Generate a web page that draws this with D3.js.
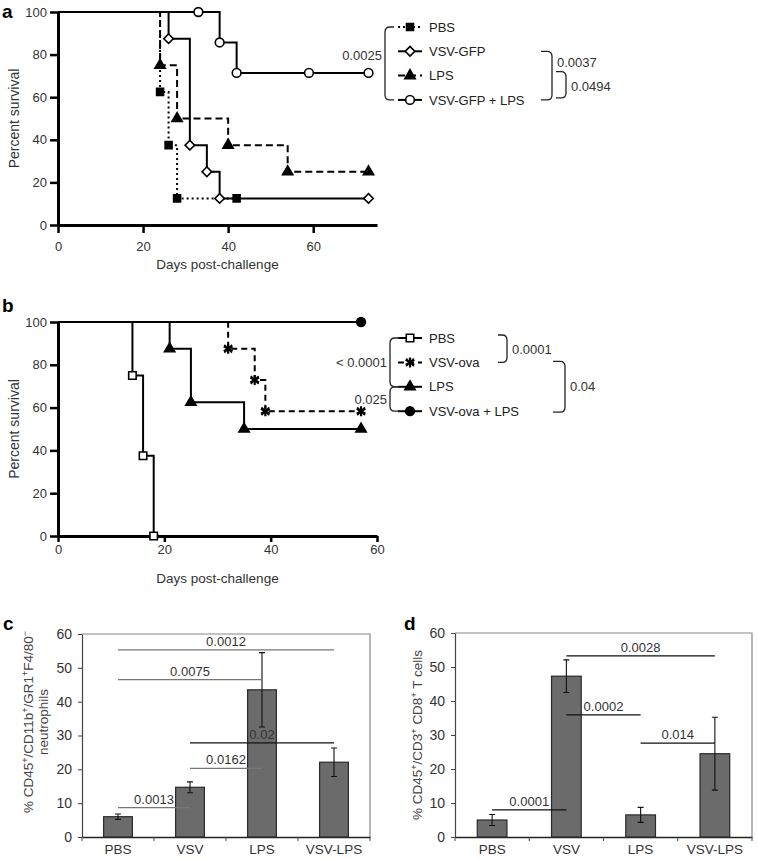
<!DOCTYPE html>
<html>
<head>
<meta charset="utf-8">
<script src="https://cdn.jsdelivr.net/npm/d3@7"></script>
<style>
  body { margin: 0; background: #fff; }
  svg { font-family: "Liberation Sans", Arial, sans-serif; }
</style>
</head>
<body>
<svg id="fig" width="758" height="859"></svg>
<script>
// ---- panel a: survival, VSV-GFP / LPS ----
const aGroups = ["PBS", "VSV-GFP", "LPS", "VSV-GFP + LPS"];
const aDays = [
  [0, 24, 26, 28, 42],
  [0, 26, 31, 35, 38, 73],
  [0, 24, 28, 40, 54, 73],
  [0, 33, 38, 42, 59, 73]
];
const aSurvival = [
  [100, 62.5, 37.5, 12.5, 12.5],
  [100, 87.5, 37.5, 25, 12.5, 12.5],
  [100, 75, 50, 37.5, 25, 25],
  [100, 100, 85.7, 71.4, 71.4, 71.4]
];
const aTicksX = [0, 20, 40, 60];
const aLeftP = ["0.0025"];
const aRightP = ["0.0037", "0.0494"];

// ---- panel b: survival, VSV-ova / LPS ----
const bGroups = ["PBS", "VSV-ova", "LPS", "VSV-ova + LPS"];
const bDays = [
  [0, 14, 16, 18],
  [0, 32, 37, 39, 57],
  [0, 21, 25, 35, 57],
  [0, 57]
];
const bSurvival = [
  [100, 75, 37.5, 0],
  [100, 87.5, 72.9, 58.3, 58.3],
  [100, 87.5, 62.5, 50, 50],
  [100, 100]
];
const bTicksX = [0, 20, 40, 60];
const bLeftP = ["< 0.0001", "0.025"];
const bRightP = ["0.0001", "0.04"];

const survTicks = [0, 20, 40, 60, 80, 100];

// ---- panels c, d: bar charts ----
const barCats = ["PBS", "VSV", "LPS", "VSV-LPS"];
const barTicks = [0, 10, 20, 30, 40, 50, 60];
const cMeans = [6.0, 14.7, 43.5, 22.1];
const cErr = [0.8, 1.6, 11.0, 4.2];
const cPvals = ["0.0012", "0.0075", "0.02", "0.0162", "0.0013"];
const cPairs = [[0, 3], [0, 2], [1, 3], [1, 2], [0, 1]];
const cPy = [55.3, 46.5, 27.8, 20.3, 8.7];
const dMeans = [5.0, 47.3, 6.5, 24.5];
const dErr = [1.6, 4.8, 2.2, 10.7];
const dPvals = ["0.0028", "0.0002", "0.014", "0.0001"];
const dPairs = [[1, 3], [1, 2], [2, 3], [0, 1]];
const dPy = [53.3, 35.9, 27.6, 8.0];

const svg = d3.select("#fig");
const ink = "#333";

// marker shapes, one per series
const aStyle = [
  { dash: "2,3", sym: d3.symbolSquare, size: 48, fill: "#000", rot: 0 },
  { dash: null, sym: d3.symbolSquare, size: 46, fill: "#fff", rot: 45 },
  { dash: "7,4", sym: d3.symbolTriangle, size: 46, fill: "#000", rot: 0 },
  { dash: null, sym: d3.symbolCircle, size: 60, fill: "#fff", rot: 0 }
];
const bStyle = [
  { dash: null, sym: d3.symbolSquare, size: 56, fill: "#fff", rot: 0 },
  { dash: "6,4", sym: d3.symbolAsterisk, size: 70, fill: "none", rot: 0, star: true },
  { dash: null, sym: d3.symbolTriangle, size: 46, fill: "#000", rot: 0 },
  { dash: null, sym: d3.symbolCircle, size: 60, fill: "#000", rot: 0 }
];

function marker(g, st, x, y) {
  const p = g.append("path")
    .attr("d", d3.symbol(st.sym, st.size)())
    .attr("transform", `translate(${x},${y}) rotate(${st.rot})`)
    .attr("stroke", "#000");
  if (st.star) {
    p.attr("fill", "none").attr("stroke-width", 2.2);
    g.append("path")
      .attr("d", d3.symbol(d3.symbolTimes, 40)())
      .attr("transform", `translate(${x},${y})`)
      .attr("stroke", "#000").attr("stroke-width", 1.6);
  } else {
    p.attr("fill", st.fill).attr("stroke-width", 1.6);
  }
}

function bracket(g, x, ya, yb, dir, w) {
  const r = 5;
  g.append("path")
    .attr("d", `M${x + dir * w},${ya} L${x + dir * r},${ya} Q${x},${ya} ${x},${ya + r}
                L${x},${yb - r} Q${x},${yb} ${x + dir * r},${yb} L${x + dir * w},${yb}`)
    .attr("fill", "none").attr("stroke", "#222").attr("stroke-width", 1.3);
}

function drawSurvival(cfg) {
  const g = svg.append("g");
  const x = d3.scaleLinear().domain([0, cfg.xMax]).range([cfg.x0, cfg.x1]);
  const y = d3.scaleLinear().domain([0, 100]).range([cfg.y0, cfg.y1]);

  const ax = g.append("g").attr("transform", `translate(0,${cfg.y0})`)
    .call(d3.axisBottom(x).tickValues(cfg.xTicks).tickSize(cfg.tick).tickPadding(cfg.pad).tickSizeOuter(0));
  const ay = g.append("g").attr("transform", `translate(${cfg.x0},0)`)
    .call(d3.axisLeft(y).tickValues(survTicks).tickSize(8).tickPadding(3).tickSizeOuter(0));
  [ax, ay].forEach(a => {
    a.select(".domain").attr("stroke", "#000").attr("stroke-width", 3);
    a.selectAll(".tick line").attr("stroke", "#000").attr("stroke-width", 2.5);
    a.selectAll("text").attr("font-size", 13).attr("fill", ink);
  });

  const line = d3.line().x(d => x(d[0])).y(d => y(d[1])).curve(d3.curveStepAfter);
  cfg.days.forEach((ds, i) => {
    const pts = ds.map((d, j) => [d, cfg.surv[i][j]]);
    g.append("path").attr("d", line(pts))
      .attr("fill", "none").attr("stroke", "#000").attr("stroke-width", 2)
      .attr("stroke-dasharray", cfg.style[i].dash);
  });
  cfg.days.forEach((ds, i) => {
    ds.forEach((d, j) => {
      if (j > 0) marker(g, cfg.style[i], x(d), y(cfg.surv[i][j]));
    });
  });

  g.append("text").attr("transform", `translate(19,${(cfg.y0 + cfg.y1) / 2}) rotate(-90)`)
    .attr("text-anchor", "middle").attr("font-size", 14).attr("fill", ink)
    .text("Percent survival");
  g.append("text").attr("x", (cfg.x0 + cfg.x1) / 2).attr("y", cfg.xLabelY)
    .attr("text-anchor", "middle").attr("font-size", 13.5).attr("fill", ink)
    .text("Days post-challenge");
  g.append("text").attr("x", 2).attr("y", cfg.letterY)
    .attr("font-size", 19).attr("font-weight", "bold").text(cfg.letter);

  // legend
  const row = i => cfg.legTop + i * cfg.legStep;
  cfg.groups.forEach((name, i) => {
    g.append("line").attr("x1", 398).attr("x2", 422).attr("y1", row(i)).attr("y2", row(i))
      .attr("stroke", "#000").attr("stroke-width", 2).attr("stroke-dasharray", cfg.style[i].dash);
    marker(g, cfg.style[i], 410, row(i));
    g.append("text").attr("x", 429).attr("y", row(i)).attr("dy", "0.36em")
      .attr("font-size", 13).attr("fill", "#222").text(name);
  });
  cfg.brackets.forEach(b => {
    bracket(g, b.x, row(b.rows[0]) + b.pad[0], row(b.rows[1]) + b.pad[1], b.dir, b.w);
    g.append("text").attr("x", b.x + (b.dir > 0 ? -3 : 5)).attr("y", row(b.labelRow)).attr("dy", "0.36em")
      .attr("text-anchor", b.dir > 0 ? "end" : "start")
      .attr("font-size", 13).attr("fill", ink).text(b.label);
  });
}

drawSurvival({
  x0: 58, x1: 377, y0: 225, y1: 12, xMax: 75, xTicks: aTicksX, tick: 8, pad: 9,
  days: aDays, surv: aSurvival, style: aStyle, groups: aGroups,
  xLabelY: 269, letter: "a", letterY: 18, legTop: 27, legStep: 24.3,
  brackets: [
    { x: 385, rows: [0, 3], pad: [0, 0], dir: 1, w: 9, label: aLeftP[0], labelRow: 1.15 },
    { x: 552, rows: [1, 3], pad: [0, 0], dir: -1, w: 11, label: aRightP[0], labelRow: 1.45 },
    { x: 566, rows: [2, 3], pad: [-4, -2], dir: -1, w: 10, label: aRightP[1], labelRow: 2.45 }
  ]
});

drawSurvival({
  x0: 58, x1: 377, y0: 536, y1: 322, xMax: 60, xTicks: bTicksX, tick: 6, pad: 3,
  days: bDays, surv: bSurvival, style: bStyle, groups: bGroups,
  xLabelY: 583, letter: "b", letterY: 312, legTop: 338, legStep: 24.4,
  brackets: [
    { x: 390, rows: [0, 2], pad: [0, 0], dir: 1, w: 10, label: bLeftP[0], labelRow: 1.0 },
    { x: 390, rows: [2, 3], pad: [0, 0], dir: 1, w: 10, label: bLeftP[1], labelRow: 2.5 },
    { x: 507, rows: [0, 1], pad: [-3, 0], dir: -1, w: 9, label: bRightP[0], labelRow: 0.45 },
    { x: 565, rows: [1, 3], pad: [-1, 1], dir: -1, w: 12, label: bRightP[1], labelRow: 2.0 }
  ]
});

// ---- bar panels ----
function drawBars(cfg) {
  const g = svg.append("g");
  const x = d3.scaleBand().domain(barCats).range([cfg.x0, cfg.x1]).paddingInner(0.6).paddingOuter(0.3);
  const y = d3.scaleLinear().domain([0, 60]).range([cfg.y0, cfg.y1]);
  const cx = i => x(barCats[i]) + x.bandwidth() / 2;

  // frame
  g.append("path").attr("d", `M${cfg.x0},${cfg.y1} H${cfg.x1} V${cfg.y0}`)
    .attr("fill", "none").attr("stroke", "#888").attr("stroke-width", 1.2);
  const ay = g.append("g").attr("transform", `translate(${cfg.x0},0)`)
    .call(d3.axisLeft(y).tickValues(barTicks).tickSize(4).tickPadding(6).tickSizeOuter(0));
  ay.select(".domain").attr("stroke", "#444").attr("stroke-width", 1.2);
  ay.selectAll(".tick line").attr("stroke", "#444");
  ay.selectAll("text").attr("font-size", 14).attr("fill", ink);

  const ax = g.append("g").attr("transform", `translate(0,${cfg.y0})`)
    .call(d3.axisBottom(x).tickSize(0).tickPadding(7).tickSizeOuter(0));
  ax.select(".domain").attr("stroke", "#222").attr("stroke-width", 1.4);
  ax.selectAll("text").attr("font-size", 13.5).attr("fill", ink);
  d3.range(barCats.length + 1).forEach(i => {
    const bx = cfg.x0 + i * x.step();
    g.append("line").attr("x1", bx).attr("x2", bx).attr("y1", cfg.y0).attr("y2", cfg.y0 + 4)
      .attr("stroke", "#444");
  });

  g.selectAll(".bar").data(cfg.means).enter().append("rect")
    .attr("x", (d, i) => x(barCats[i])).attr("width", x.bandwidth())
    .attr("y", d => y(d)).attr("height", d => cfg.y0 - y(d))
    .attr("fill", "#6b6b6b").attr("stroke", "#2a2a2a").attr("stroke-width", 1.2);

  cfg.means.forEach((m, i) => {
    const e = cfg.err[i];
    const ex = cx(i);
    g.append("path")
      .attr("d", `M${ex - 3},${y(m + e)} H${ex + 3} M${ex},${y(m + e)} V${y(m - e)} M${ex - 3},${y(m - e)} H${ex + 3}`)
      .attr("fill", "none").attr("stroke", "#111").attr("stroke-width", 1.1);
  });

  cfg.pvals.forEach((p, k) => {
    const [a, b] = cfg.pairs[k];
    const ly = y(cfg.py[k]);
    const col = cfg.dark.has(p) ? "#111" : "#777";
    g.append("line").attr("x1", cx(a)).attr("x2", cx(b)).attr("y1", ly).attr("y2", ly)
      .attr("stroke", col).attr("stroke-width", 1.3);
    g.append("text").attr("x", (cx(a) + cx(b)) / 2).attr("y", ly - 4)
      .attr("text-anchor", "middle").attr("font-size", 13).attr("fill", ink).text(p);
  });

  // rotated y label with superscripts
  cfg.ylabel.forEach((parts, li) => {
    const t = g.append("text")
      .attr("transform", `translate(${cfg.labelX[li]},${cfg.labelY}) rotate(-90)`)
      .attr("text-anchor", "middle").attr("font-size", 13.5).attr("fill", "#444");
    parts.forEach(pt => {
      if (pt.sup) {
        t.append("tspan").attr("baseline-shift", "super").attr("font-size", 9).text(pt.sup);
      } else {
        t.append("tspan").text(pt.t);
      }
    });
  });
  g.append("text").attr("x", cfg.letterX).attr("y", 630)
    .attr("font-size", 19).attr("font-weight", "bold").text(cfg.letter);
}

drawBars({
  x0: 82, x1: 370, y0: 837, y1: 634,
  means: cMeans, err: cErr, pvals: cPvals, pairs: cPairs, py: cPy, dark: new Set(["0.02"]),
  ylabel: [
    [{ t: "% CD45" }, { sup: "+" }, { t: "/CD11b" }, { sup: "+" }, { t: "/GR1" }, { sup: "+" }, { t: "F4/80" }, { sup: "\u2212" }],
    [{ t: "neutrophils" }]
  ],
  labelX: [33, 48], labelY: 722, letter: "c", letterX: 3
});

drawBars({
  x0: 455, x1: 752, y0: 837, y1: 633,
  means: dMeans, err: dErr, pvals: dPvals, pairs: dPairs, py: dPy, dark: new Set(dPvals),
  ylabel: [
    [{ t: "% CD45" }, { sup: "+" }, { t: "/CD3" }, { sup: "+" }, { t: " CD8" }, { sup: "+" }, { t: " T cells" }]
  ],
  labelX: [422], labelY: 735, letter: "d", letterX: 404
});
</script>
</body>
</html>
